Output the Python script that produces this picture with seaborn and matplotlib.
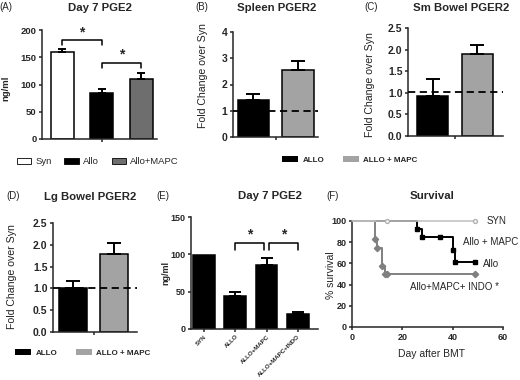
import numpy as np
import pandas as pd
import matplotlib
matplotlib.use("Agg")
import matplotlib.pyplot as plt
import matplotlib.patches as mpatches
import seaborn as sns

# ---- data ----
a_groups = ["Syn", "Allo", "Allo+MAPC"]
a_values = [160, 84, 111]
a_errors = [5, 8, 10]

pger_groups = ["ALLO", "ALLO + MAPC"]
spleen_values = [1.4, 2.55]
spleen_errors = [0.22, 0.33]
smbowel_values = [0.93, 1.9]
smbowel_errors = [0.4, 0.2]
lgbowel_values = [1.02, 1.78]
lgbowel_errors = [0.15, 0.27]

e_groups = ["SYN", "ALLO", "ALLO+MAPC", "ALLO+MAPC+INDO"]
e_values = [99, 44, 86, 20]
e_errors = [0, 6, 9, 3]

syn_days = [0, 49]
syn_surv = [100, 100]
syn_mark_days = [14, 49]
syn_mark_surv = [100, 100]
allo_days = [0, 26, 28, 40, 41, 49]
allo_surv = [100, 92, 85, 73, 61, 61]
allo_mark_days = [26, 28, 35, 40, 41, 49]
allo_mark_surv = [92, 85, 85, 73, 61, 61]
indo_days = [0, 9, 10, 12, 13, 49]
indo_surv = [100, 83, 75, 58, 50, 50]
indo_mark_days = [9, 10, 12, 13, 14, 49]
indo_mark_surv = [83, 75, 58, 50, 50, 50]

# ---- style ----
sns.set_style("ticks")
plt.rcParams['font.family'] = ['Liberation Sans', 'DejaVu Sans']
plt.rcParams['axes.linewidth'] = 1.1
plt.rcParams['xtick.major.width'] = 1.1
plt.rcParams['ytick.major.width'] = 1.1
plt.rcParams['xtick.major.size'] = 2.5
plt.rcParams['ytick.major.size'] = 2.5
plt.rcParams['xtick.major.pad'] = 1.5
plt.rcParams['ytick.major.pad'] = 1.5

W, H = 520, 380
fig = plt.figure(figsize=(W / 100, H / 100), dpi=100)


def add_ax(l, t, r, b):
    return fig.add_axes([l / W, 1 - b / H, (r - l) / W, (b - t) / H])


def ftext(x, y, s, **kw):
    kw.setdefault("ha", "center")
    kw.setdefault("va", "center")
    fig.text(x / W, 1 - y / H, s, **kw)


def bars(ax, groups, values, errors, colors, width, capsize):
    df = pd.DataFrame({"group": groups, "value": values})
    sns.barplot(data=df, x="group", y="value", hue="group", palette=dict(zip(groups, colors)),
                width=width, edgecolor="black", linewidth=1.1, errorbar=None, legend=False,
                saturation=1, ax=ax)
    idx = [i for i, e in enumerate(errors) if e > 0]
    ax.errorbar(idx, [values[i] for i in idx],
                yerr=[[0] * len(idx), [errors[i] for i in idx]],
                fmt="none", ecolor="black", elinewidth=1.4, capsize=capsize, capthick=1.4, zorder=1)
    ax.set_xlabel("")
    ax.set_ylabel("")
    sns.despine(ax=ax)


def bracket(ax, x0, x1, y, drop, star_y):
    ax.plot([x0, x0, x1, x1], [y - drop, y, y, y - drop], color="black", lw=1.1, clip_on=False)
    ax.text((x0 + x1) / 2, star_y, "*", ha="center", va="center", fontsize=10, fontweight="bold")


def bold_ticks(labels, size):
    for lab in labels:
        lab.set_fontsize(size)
        lab.set_fontweight("bold")


title_kw = dict(fontsize=8.2, fontweight="bold")
letter_kw = dict(fontsize=7)

# ---- (A) Day 7 PGE2 ----
ax = add_ax(42, 30, 157, 139)
bars(ax, a_groups, a_values, a_errors, ["white", "black", "#6e6e6e"], 0.58, 3)
ax.set_ylim(0, 200)
ax.set_xlim(-0.51, 2.4)
ax.set_yticks([0, 50, 100, 150, 200])
ax.set_xticks([1])
ax.set_xticklabels([""])
bold_ticks(ax.get_yticklabels(), 6.8)
bracket(ax, 0, 1, 182, 10, 196)
bracket(ax, 1, 2, 140, 10, 155)
ftext(100, 8, "Day 7 PGE2", **title_kw)
ftext(6, 7, "(A)", **letter_kw)
ftext(6, 88, "ng/ml", rotation=90, fontsize=6.8, fontweight="bold")
handles = [mpatches.Patch(facecolor=c, edgecolor="black", lw=0.6) for c in ["white", "black", "#6e6e6e"]]
fig.legend(handles, a_groups, loc="center", bbox_to_anchor=(98 / W, 1 - 162 / H), ncol=3,
           frameon=False, fontsize=6.8, handlelength=1.5, handleheight=0.6,
           handletextpad=0.5, columnspacing=1.3, borderpad=0)

# ---- (B), (C), (D) PGER2 fold change ----
pger_colors = ["black", "#a3a3a3"]
pger_panels = [
    ((233, 32, 318, 137), spleen_values, spleen_errors, (0, 4), [0, 1, 2, 3, 4], (-0.46, 1.45), 1.0,
     "Spleen PGER2", (277, 8), "(B)", (202, 7), (203, 76)),
    ((408, 28, 503, 136), smbowel_values, smbowel_errors, (0, 2.5), [0, 0.5, 1, 1.5, 2, 2.5], (-0.55, 1.58), 1.03,
     "Sm Bowel PGER2", (461, 8), "(C)", (371, 7), (370, 85)),
    ((53, 223, 137, 332), lgbowel_values, lgbowel_errors, (0, 2.5), [0, 0.5, 1, 1.5, 2, 2.5], (-0.49, 1.56), 1.02,
     "Lg Bowel PGER2", (90, 197), "(D)", (13, 196), (12, 277)),
]
for box, vals, errs, ylim, yticks, xlim, ref, title, tpos, letter, lpos, ylpos in pger_panels:
    ax = add_ax(*box)
    bars(ax, pger_groups, vals, errs, pger_colors, 0.7, 5)
    ax.axhline(ref, color="black", ls=(0, (4, 2.5)), lw=1.3, zorder=5)
    ax.set_ylim(*ylim)
    ax.set_xlim(*xlim)
    ax.set_yticks(yticks)
    if ylim[1] < 3:
        ax.set_yticklabels([f"{t:.1f}" for t in yticks])
    ax.set_xticks([0.5])
    ax.set_xticklabels([""])
    bold_ticks(ax.get_yticklabels(), 7.5)
    ftext(*tpos, title, **title_kw)
    ftext(*lpos, letter, **letter_kw)
    ftext(*ylpos, "Fold Change over Syn", rotation=90, fontsize=7.6, color="#222222")

pger_handles = [mpatches.Patch(facecolor=c, edgecolor="none") for c in pger_colors]
for cx, cy in [(350, 160), (83, 353)]:
    fig.legend(pger_handles, pger_groups, loc="center", bbox_to_anchor=(cx / W, 1 - cy / H), ncol=2,
               frameon=False, prop=dict(size=5.8, weight="bold"), handlelength=2.0, handleheight=0.7,
               handletextpad=0.6, columnspacing=2.2, borderpad=0)

# ---- (E) Day 7 PGE2 ----
ax = add_ax(191, 217, 318, 329)
bars(ax, e_groups, e_values, e_errors, ["black"] * 4, 0.7, 4)
ax.set_ylim(0, 150)
ax.set_xlim(-0.42, 3.65)
ax.set_yticks([0, 50, 100, 150])
ax.set_xticks(range(len(e_groups)))
ax.set_xticklabels(e_groups, rotation=45, ha="right", rotation_mode="anchor", fontsize=4.4, fontweight="bold")
ax.tick_params(axis="x", pad=1)
bold_ticks(ax.get_yticklabels(), 6.5)
bracket(ax, 1, 1.93, 115, 9, 127)
bracket(ax, 2.07, 3, 115, 9, 127)
ftext(270, 196, "Day 7 PGE2", **title_kw)
ftext(163, 196, "(E)", **letter_kw)
ftext(166, 273, "ng/ml", rotation=90, fontsize=6.5, fontweight="bold")

# ---- (F) Survival ----
ax = add_ax(352, 221, 503, 327)
ax.step(allo_days, allo_surv, where="post", color="black", lw=1.4, clip_on=False, zorder=2)
ax.plot(allo_mark_days, allo_mark_surv, ls="none", marker="s", ms=3.4, color="black", clip_on=False, zorder=3)
ax.step(indo_days, indo_surv, where="post", color="#808080", lw=1.4, clip_on=False, zorder=2)
ax.plot(indo_mark_days, indo_mark_surv, ls="none", marker="D", ms=3.2, color="#808080", clip_on=False, zorder=3)
ax.plot(syn_days, syn_surv, color="#c4c4c4", lw=1.2, clip_on=False, zorder=4)
ax.plot(syn_mark_days, syn_mark_surv, ls="none", marker="o", ms=2.8, mfc="white", mec="#b0b0b0",
        mew=1, clip_on=False, zorder=5)
ax.set_xlim(0, 60)
ax.set_ylim(0, 100)
ax.set_xticks([0, 20, 40, 60])
ax.set_yticks([0, 20, 40, 60, 80, 100])
bold_ticks(ax.get_xticklabels() + ax.get_yticklabels(), 6.5)
sns.despine(ax=ax)
for x, y, s in [(53.5, 100, "SYN"), (44, 80, "Allo + MAPC"), (52, 59, "Allo"), (23, 38, "Allo+MAPC+ INDO *")]:
    ax.text(x, y, s, fontsize=7.0, va="center", ha="left", clip_on=False)
ftext(432, 196, "Survival", **title_kw)
ftext(333, 196, "(F)", **letter_kw)
ftext(331, 275, "% survival", rotation=90, fontsize=7.5)
ftext(432, 354, "Day after BMT", fontsize=7.5)

fig.savefig("out.png", dpi=100)
